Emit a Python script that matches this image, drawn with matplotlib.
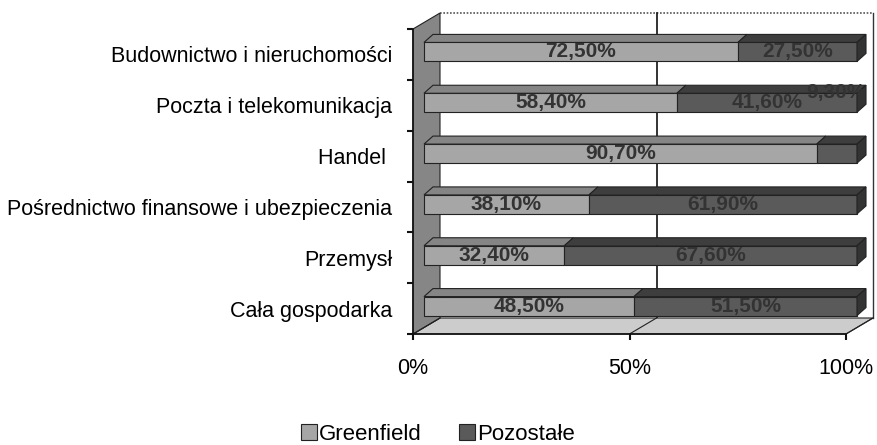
import matplotlib
matplotlib.use('Agg')
import matplotlib.pyplot as plt
from matplotlib.patches import Polygon, Patch

plt.rcParams['font.family'] = ['Liberation Sans', 'DejaVu Sans']

# data
categories = ['Cała gospodarka', 'Przemysł', 'Pośrednictwo finansowe i ubezpieczenia',
              'Handel ', 'Poczta i telekomunikacja', 'Budownictwo i nieruchomości']
greenfield = [48.5, 32.4, 38.1, 90.7, 58.4, 72.5]
pozostale = [51.5, 67.6, 61.9, 9.3, 41.6, 27.5]
series_names = ['Greenfield', 'Pozostałe']
xticks = [0, 50, 100]
xticklabels = ['0%', '50%', '100%']

#colors
c_green = '#a6a6a6'
c_green_top = '#858585'
c_rest = '#5a5a5a'
c_rest_top = '#3e3e3e'
c_rest_side = '#333333'
c_edge = '#222222'

fig = plt.figure(figsize=(8.77, 4.45), dpi=100)
ax = fig.add_axes([413/877, 111/445, 433/877, 305/445])
ax.set_xlim(0, 100)
ax.set_ylim(-0.5, 5.5)

px_x = 433/100.0      # pixels per percent
px_y = 305/6.0        # pixels per category

# depth of the whole box
DX = 27/px_x
DY = 16/px_y
# bar placement inside the box
ox = 11/px_x
oy = 2.5/px_y
bh = 19/px_y
bdx = 9/px_x
bdy = 8/px_y

def poly(pts, fc, z, lw=0.8, ec=c_edge):
    p = Polygon(pts, closed=True, facecolor=fc, edgecolor=ec, lw=lw, zorder=z, clip_on=False)
    ax.add_patch(p)

n = len(categories)
y0, y1 = -0.5, n - 0.5

# back wall, floor, left wall
ax.plot([DX, 100+DX], [y1+DY, y1+DY], color='#555555', lw=1.2, ls=(0, (1, 1)), zorder=1, clip_on=False)
ax.plot([100+DX, 100+DX], [y0+DY, y1+DY], color='#333333', lw=1, zorder=1, clip_on=False)
ax.plot([50+DX, 50+DX], [y0+DY, y1+DY], color='#111111', lw=1.2, zorder=1, clip_on=False)
poly([(0, y0), (100, y0), (100+DX, y0+DY), (DX, y0+DY)], '#cccccc', 1, lw=0.8)
for t in xticks:
    ax.plot([t, t+DX], [y0, y0+DY], color='#222222', lw=0.8, zorder=1.5, clip_on=False)
poly([(0, y0), (DX, y0+DY), (DX, y1+DY), (0, y1)], '#868686', 1, lw=0.8)

# bars
yc = [i + oy for i in range(n)]
b1 = ax.barh(yc, greenfield, left=[ox]*n, height=bh, color=c_green, edgecolor=c_edge, lw=0.8, zorder=3)
b2 = ax.barh(yc, pozostale, left=[g + ox for g in greenfield], height=bh, color=c_rest,
             edgecolor=c_edge, lw=0.8, zorder=3)
for r in list(b1) + list(b2):
    r.set_clip_on(False)
for i in range(n):
    top = yc[i] + bh/2
    a, b = ox, ox + greenfield[i]
    c = b + pozostale[i]
    poly([(a, top), (b, top), (b+bdx, top+bdy), (a+bdx, top+bdy)], c_green_top, 3)
    poly([(b, top), (c, top), (c+bdx, top+bdy), (b+bdx, top+bdy)], c_rest_top, 3)
    poly([(c, top-bh), (c, top), (c+bdx, top+bdy), (c+bdx, top-bh+bdy)], c_rest_side, 3)

# value labels
def fmt(v):
    return f'{v:.2f}'.replace('.', ',') + '%'

fs_val = 15
for i in range(n):
    g = greenfield[i]
    p = pozostale[i]
    ax.text(ox + g/2, yc[i], fmt(g), ha='center', va='center', fontsize=fs_val,
            fontweight='bold', color='#333333', zorder=5)
    if p < 15:
        ax.annotate(fmt(p), (ox + g + p/2, yc[i]), xytext=(-1, 44), textcoords='offset points',
                    ha='center', va='center', fontsize=fs_val, fontweight='bold',
                    color='#333333', zorder=5, annotation_clip=False)
    else:
        ax.text(ox + g + p/2, yc[i], fmt(p), ha='center', va='center', fontsize=fs_val,
                fontweight='bold', color='#333333', zorder=5)

# axes
for s in ['top', 'right']:
    ax.spines[s].set_visible(False)
ax.spines['left'].set_color('#111111')
ax.spines['bottom'].set_color('#111111')
ax.spines['left'].set_linewidth(1.2)
ax.spines['bottom'].set_linewidth(1.2)
ax.spines['left'].set_zorder(2)
ax.spines['bottom'].set_zorder(2)
ax.patch.set_visible(False)

ax.set_xticks(xticks)
ax.set_xticklabels(xticklabels, fontsize=15.5)
ax.tick_params(axis='x', length=4, width=1.5, pad=13, color='#111111')
ax.set_yticks([i - 0.5 for i in range(n + 1)])
ax.set_yticklabels([])
ax.tick_params(axis='y', which='major', length=4, width=1.5, color='#111111')
ax.set_yticks(range(n), minor=True)
ax.set_yticklabels(categories, minor=True, fontsize=15.5)
ax.tick_params(axis='y', which='minor', length=0, pad=15)

handles = [Patch(facecolor=c_green, edgecolor=c_edge, lw=0.8),
           Patch(facecolor=c_rest, edgecolor=c_edge, lw=0.8)]
fig.legend(handles, series_names, loc='center', bbox_to_anchor=(438/877, 1 - 434/445), ncol=2,
           frameon=False, fontsize=16, handlelength=0.7, handleheight=0.7,
           handletextpad=0.1, columnspacing=1.7)

fig.savefig('out.png', dpi=100)
